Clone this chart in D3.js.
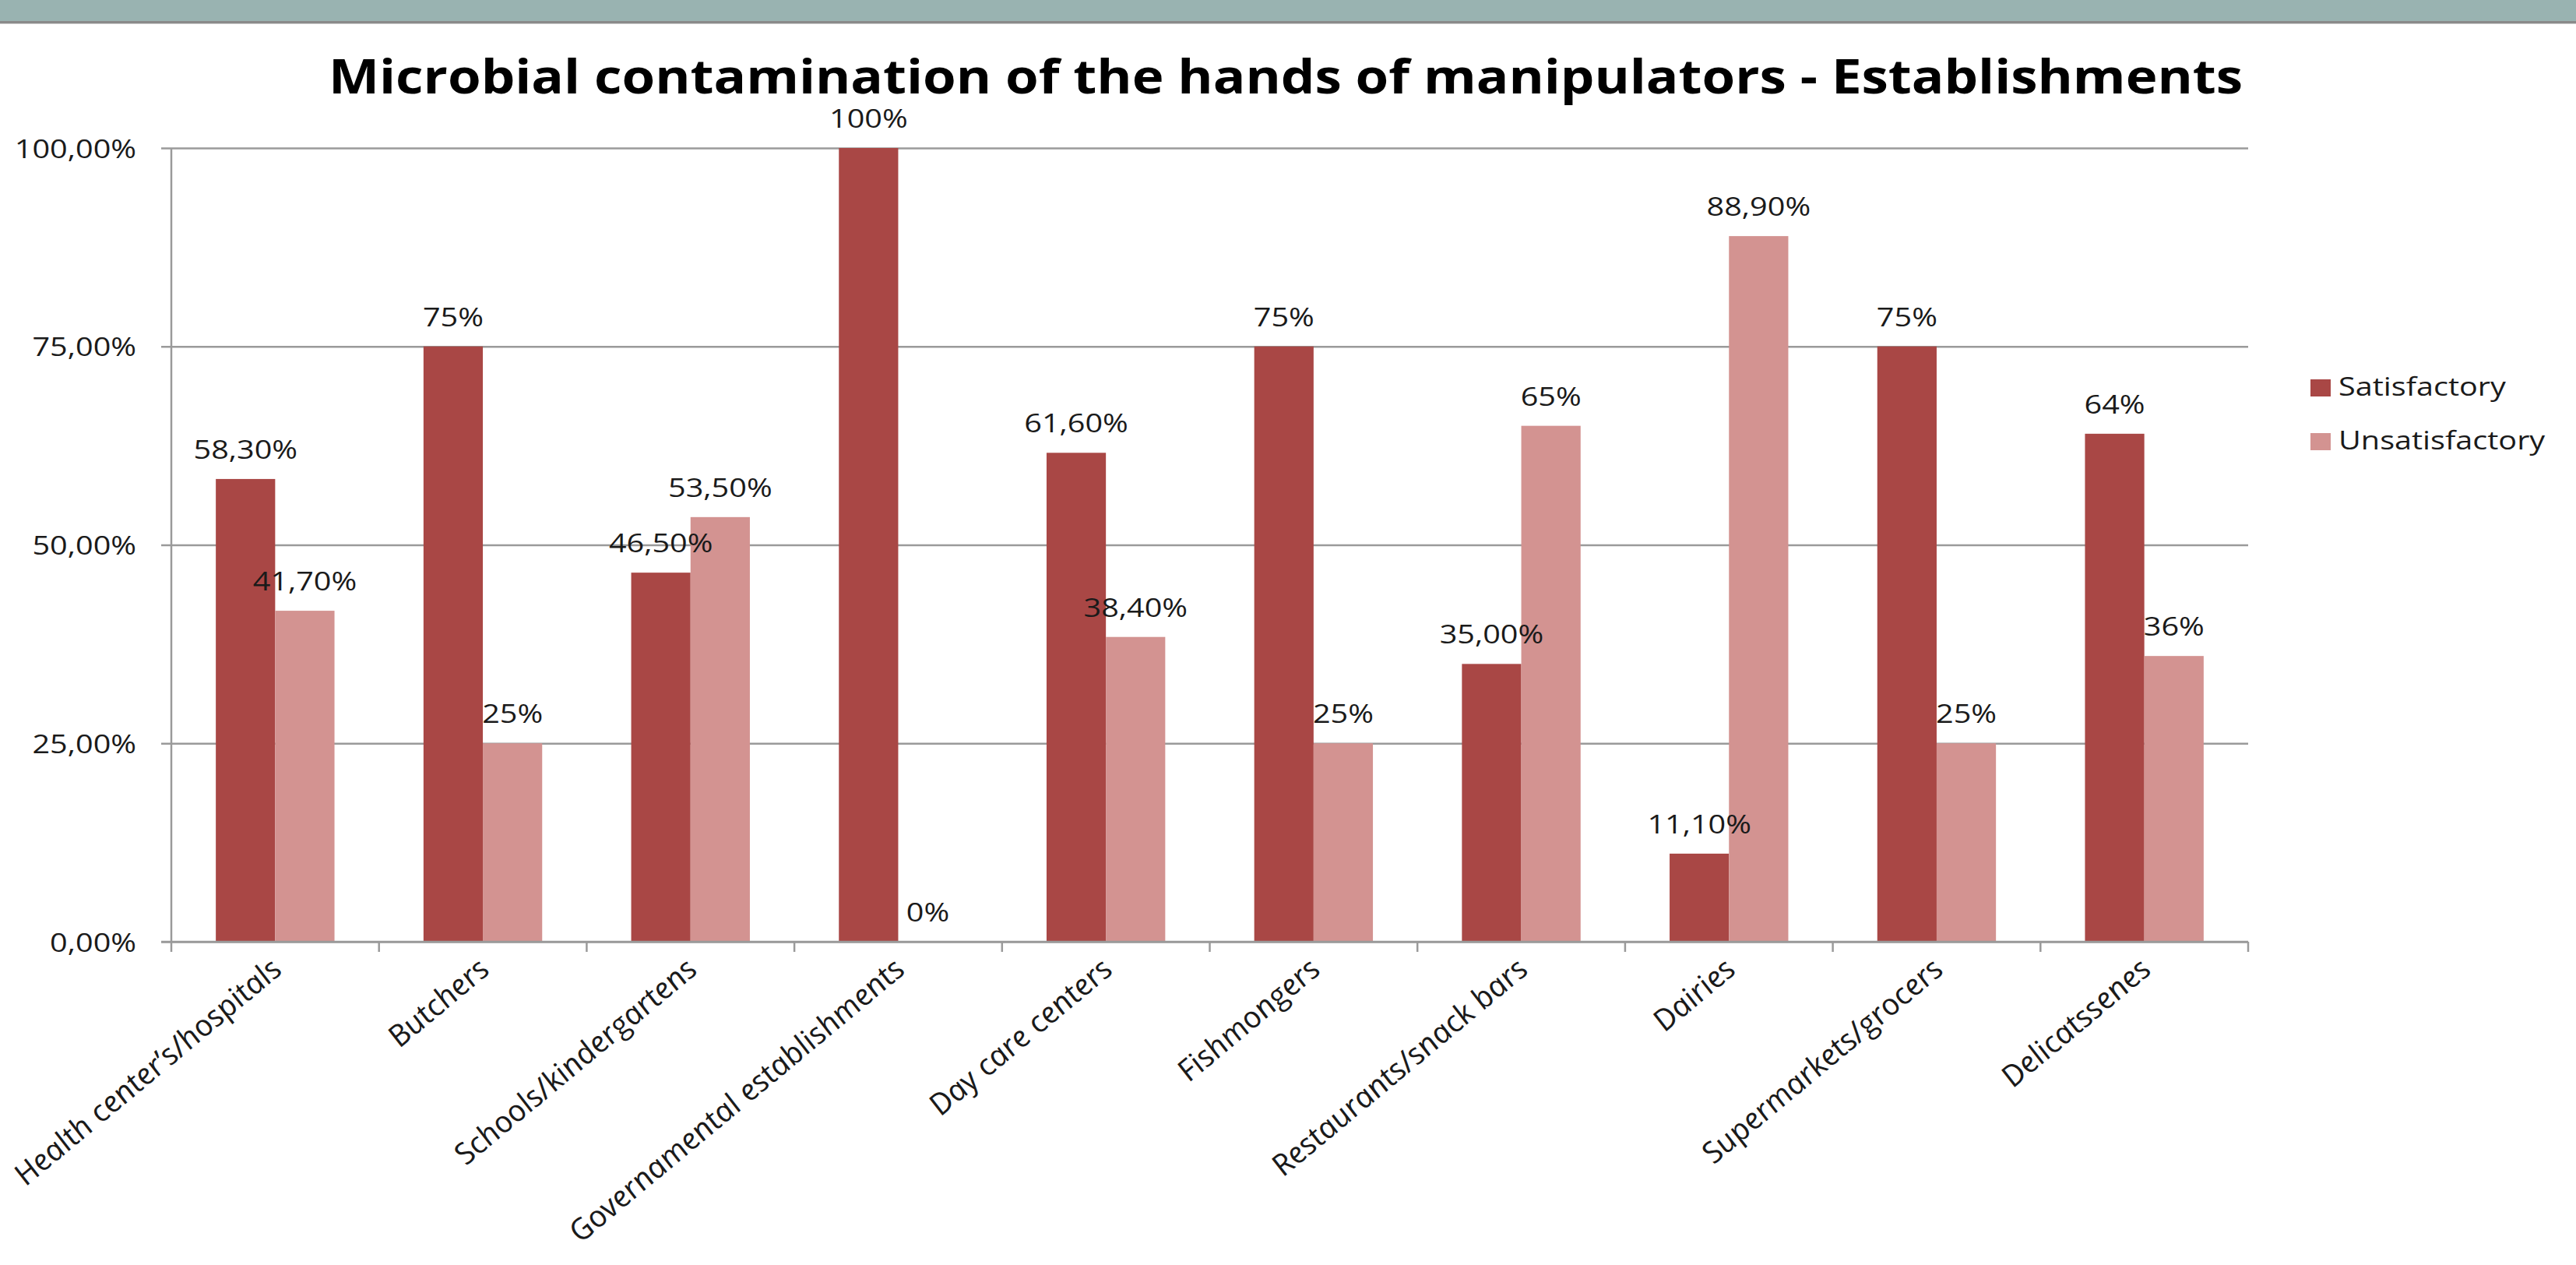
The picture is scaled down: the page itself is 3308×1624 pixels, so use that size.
<!DOCTYPE html>
<html>
<head>
<meta charset="utf-8">
<script src="https://cdn.jsdelivr.net/npm/d3@7"></script>
<style>
  body { margin: 0; background: #fff; }
  text { font-family: 'Open Sans', 'DejaVu Sans', sans-serif; fill: #1a1a1a; }
</style>
</head>
<body>
<div id="chart"></div>
<script>
'use strict'

// data
const categories = [
  'Health center\u2019s/hospitals', 'Butchers', 'Schools/kindergartens',
  'Governamental establishments', 'Day care centers', 'Fishmongers',
  'Restaurants/snack bars', 'Dairies', 'Supermarkets/grocers', 'Delicatssenes'
]
const series = ['Satisfactory', 'Unsatisfactory']
const satisfactory = [0.583, 0.75, 0.465, 1.0, 0.616, 0.75, 0.35, 0.111, 0.75, 0.64]
const unsatisfactory = [0.417, 0.25, 0.535, 0.0, 0.384, 0.25, 0.65, 0.889, 0.25, 0.36]
const satLabels = ['58,30%', '75%', '46,50%', '100%', '61,60%', '75%', '35,00%', '11,10%', '75%', '64%']
const unsatLabels = ['41,70%', '25%', '53,50%', '0%', '38,40%', '25%', '65%', '88,90%', '25%', '36%']
const yTicks = [0, 0.25, 0.5, 0.75, 1]
const title = 'Microbial contamination of the hands of manipulators - Establishments'

const W = 3308
const H = 1624
const plotLeft = 220
const plotRight = 2887
const plotTop = 190
const plotBottom = 1209
const sx = 1.2 // text in the slide is stretched horizontally
const fs = 33
const colors = { 'Satisfactory': '#a94745', 'Unsatisfactory': '#d39391' }
const gridColor = '#9a9a9a'

const svg = d3.select('#chart').append('svg')
  .attr('width', W)
  .attr('height', H)

// slide header band
svg.append('rect').attr('x', 0).attr('y', 0).attr('width', W).attr('height', 27).attr('fill', '#99b3b1')
svg.append('rect').attr('x', 0).attr('y', 27).attr('width', W).attr('height', 3).attr('fill', '#8a8a8a')
svg.append('rect').attr('x', 0).attr('y', 30).attr('width', W).attr('height', 1).attr('fill', '#cfcfcf')

svg.append('text')
  .attr('x', 1651)
  .attr('y', 120)
  .attr('text-anchor', 'middle')
  .attr('textLength', 2458)
  .attr('lengthAdjust', 'spacingAndGlyphs')
  .style('font-size', '60px')
  .style('font-weight', 'bold')
  .style('fill', '#000')
  .text(title)

const y = d3.scaleLinear().domain([0, 1]).range([plotBottom, plotTop])
const x0 = d3.scaleBand().domain(categories).range([plotLeft, plotRight])
  .paddingInner(1.5 / 3.5)
  .paddingOuter(0.75 / 3.5)
const xb = d3.scaleBand().domain(categories).range([plotLeft, plotRight])
const x1 = d3.scaleBand().domain(series).range([0, x0.bandwidth()])

const locale = d3.formatLocale({ decimal: ',', thousands: '.', grouping: [3], currency: ['', '\u20ac'] })
const fmt = locale.format('.2%')

// gridlines + y axis
const yAxis = svg.append('g')
  .attr('transform', `translate(${plotLeft},0)`)
  .call(d3.axisLeft(y).tickValues(yTicks).tickSize(13).tickFormat(fmt))
yAxis.attr('font-family', null).attr('font-size', null)
yAxis.select('.domain').remove()
yAxis.selectAll('.tick line').attr('stroke', gridColor).attr('stroke-width', 2.5)
yAxis.selectAll('.tick').append('line')
  .attr('x1', 0).attr('x2', plotRight - plotLeft)
  .attr('stroke', gridColor).attr('stroke-width', 2.5)
yAxis.selectAll('.tick text')
  .attr('x', null).attr('dy', null)
  .attr('text-anchor', 'end')
  .attr('fill', null)
  .attr('transform', `translate(-45,12) scale(${sx},1)`)
  .style('font-size', fs + 'px')

svg.append('line')
  .attr('x1', plotLeft).attr('x2', plotLeft).attr('y1', plotTop).attr('y2', plotBottom)
  .attr('stroke', gridColor).attr('stroke-width', 2.5)

// bars
const rows = categories.map((c, i) => ({
  cat: c,
  vals: [
    { s: 'Satisfactory', v: satisfactory[i], label: satLabels[i] },
    { s: 'Unsatisfactory', v: unsatisfactory[i], label: unsatLabels[i] }
  ]
}))

const groups = svg.selectAll('g.group')
  .data(rows)
  .enter()
  .append('g')
  .attr('class', 'group')
  .attr('transform', d => `translate(${x0(d.cat)},0)`)

groups.selectAll('rect')
  .data(d => d.vals)
  .enter()
  .append('rect')
  .attr('x', d => x1(d.s))
  .attr('y', d => y(d.v))
  .attr('width', x1.bandwidth())
  .attr('height', d => plotBottom - y(d.v))
  .attr('fill', d => colors[d.s])

groups.selectAll('text')
  .data(d => d.vals)
  .enter()
  .append('text')
  .attr('text-anchor', 'middle')
  .attr('transform', d => `translate(${x1(d.s) + x1.bandwidth() / 2},${y(d.v) - 26}) scale(${sx},1)`)
  .style('font-size', fs + 'px')
  .text(d => d.label)

// x axis
svg.append('line')
  .attr('x1', plotLeft - 13).attr('x2', plotRight).attr('y1', plotBottom).attr('y2', plotBottom)
  .attr('stroke', gridColor).attr('stroke-width', 2.5)
const xTicks = categories.map(c => xb(c)).concat([plotRight])
svg.selectAll('line.xtick')
  .data(xTicks)
  .enter()
  .append('line')
  .attr('class', 'xtick')
  .attr('x1', d => d).attr('x2', d => d)
  .attr('y1', plotBottom).attr('y2', plotBottom + 13)
  .attr('stroke', gridColor).attr('stroke-width', 2.5)

svg.selectAll('text.cat')
  .data(categories)
  .enter()
  .append('text')
  .attr('class', 'cat')
  .attr('text-anchor', 'end')
  .attr('transform', d => `translate(${xb(d) + xb.bandwidth() / 2 + 12},${plotBottom + 38}) scale(${sx},1) rotate(-45)`)
  .style('font-size', '36px')
  .style('font-style', 'italic')
  .text(d => d)

// legend
const legend = svg.selectAll('g.legend')
  .data(series)
  .enter()
  .append('g')
  .attr('class', 'legend')
  .attr('transform', (d, i) => `translate(2967,${487 + i * 69})`)
legend.append('rect')
  .attr('width', 26).attr('height', 22)
  .attr('fill', d => colors[d])
legend.append('text')
  .attr('transform', `translate(36,21) scale(${sx},1)`)
  .style('font-size', fs + 'px')
  .text(d => d)
</script>
</body>
</html>
